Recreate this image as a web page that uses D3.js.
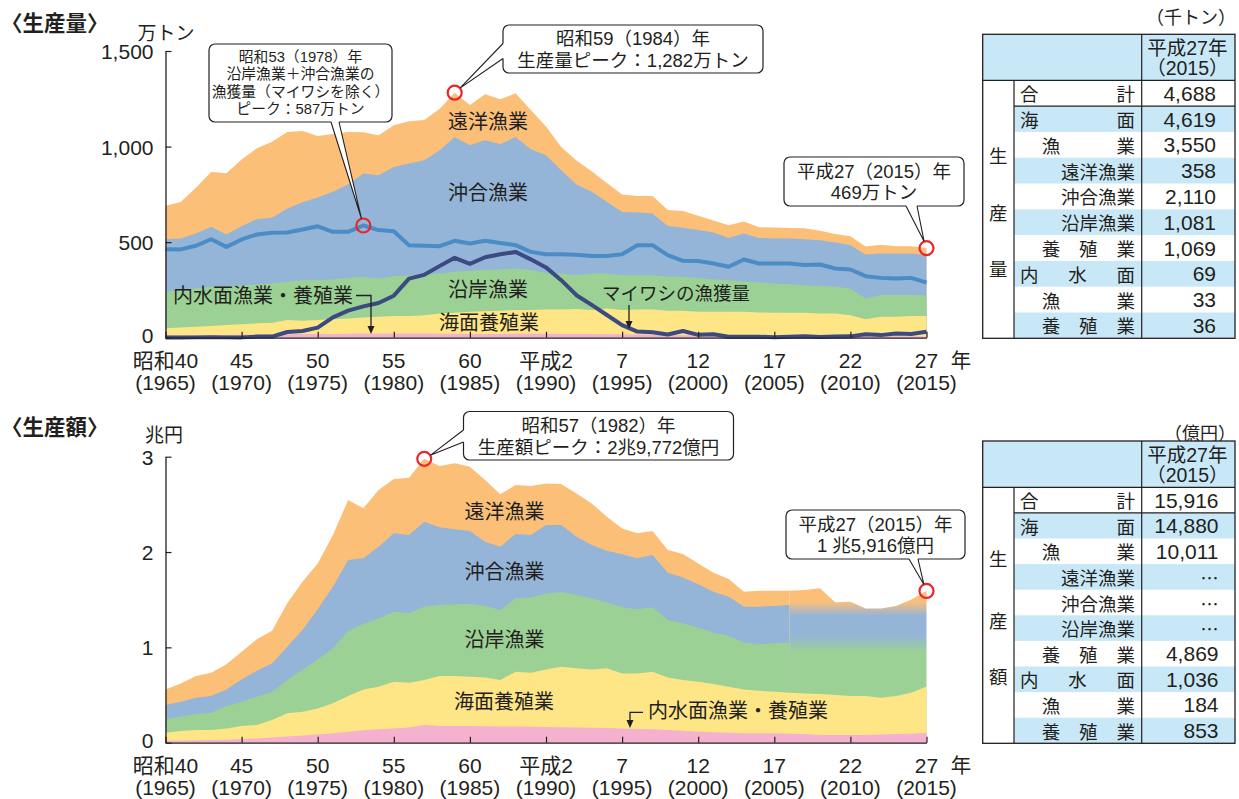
<!DOCTYPE html>
<html lang="ja">
<head>
<meta charset="utf-8">
<title>漁業・養殖業の生産量・生産額の推移</title>
<script src="https://cdn.jsdelivr.net/npm/d3@7/dist/d3.min.js"></script>
<style>
  html, body { margin: 0; padding: 0; background: #fff; }
  svg { display: block; }
  text { font-family: "Liberation Sans", "Noto Sans CJK JP", sans-serif; fill: #231f20; }
  text.cjk { font-family: "Noto Sans CJK JP", sans-serif; }
</style>
</head>
<body>
<svg id="chart" width="1239" height="799"></svg>
<script>
// ---- 年次・目盛 ----
const years = d3.range(1965, 2016);
const lateYears = d3.range(2006, 2016);
const tickYears = [1965, 1970, 1975, 1980, 1985, 1990, 1995, 2000, 2005, 2010, 2015];
const eraLabels = ["昭和40", "45", "50", "55", "60", "平成2", "7", "12", "17", "22", "27"];
const adLabels = ["(1965)", "(1970)", "(1975)", "(1980)", "(1985)", "(1990)",
                  "(1995)", "(2000)", "(2005)", "(2010)", "(2015)"];
const volTicks = [0, 500, 1000, 1500];
const valTicks = [0, 10000, 20000, 30000];

// ---- 生産量（万トン）1965〜2015 ----
const volInland = [11,12,13,13,14,15,16,17,18,19, 20,20,21,22,21,22,22,22,21,21,
  20,20,20,21,21,21,20,19,19,18, 18,17,16,14,13,13,12,11,11,11, 10,9,9,8,8,8,7,7,7,7, 6.9];
const volMarineAqua = [38,42,44,48,52,56,59,61,74,70, 72,76,80,84,89,91,91,96,106,110,
  116,119,121,124,124,127,128,131,126,135, 127,131,132,127,128,123,124,125,125,121,
  121,122,122,119,119,110,89,103,103,106, 106.9];
const volCoastal = [191,195,201,205,204,204,204,206,201,212, 209,209,212,213,200,209,213,213,209,214,
  214,215,216,217,209,192,188,177,191,183, 182,179,179,178,178,177,169,165,160,157,
  153,149,144,143,139,140,109,113,113,110, 108.1];
const volOffshore = [275,270,287,314,270,308,341,343,383,408, 432,458,488,540,540,571,585,597,644,705,
  657,679,655,688,632,614,540,474,427,375, 331,328,323,266,256,250,245,221,249,233,
  235,239,240,240,232,226,230,218,218,218, 211];
const volDistant = [176,191,240,287,321,349,371,398,400,372, 322,303,275,216,209,219,221,211,217,232,
  210,241,235,229,205,151,122,126,108,99, 91,87,91,83,88,75,63,66,63,56,
  58,55,57,49,45,47,42,45,38,38, 35.8];
// 沿岸漁業＋沖合漁業の漁獲量（マイワシを除く）
const volCoastOffshoreExSardine = [463,462,481,515,475,514,540,549,550,566, 583,554,554,587,563,557,484,481,479,507,
  493,507,496,484,449,437,437,434,428,428, 437,484,484,432,402,401,388,371,409,388,
  388,388,380,383,362,357,322,313,310,313, 288];
// マイワシの漁獲量
const volSardine = [0.9,1.3,1.7,2.3,1.7,1.7,5.7,5.8,29.7,35.2, 52.6,106.6,142,163.7,181.7,219.8,308.9,329,374.5,417.9,
  386.6,421,436.2,448.8,409.9,367.8,301,222.4,171.4,118.9, 66.1,31.9,28.4,16.7,35.1,15,17.8,5,5.2,5,
  2.8,5.3,7.9,3.5,5.7,7,17.6,13.5,21.5,19.6, 31.1];

// ---- 生産額（億円） ----
const valInland = [200,220,250,280,320,380,450,550,650,750, 870,1000,1150,1300,1400,1500,1600,1850,1750,1750,
  1750,1720,1700,1700,1680,1650,1620,1600,1570,1530, 1500,1450,1400,1320,1250,1150,1100,1050,1000,1000,
  980,950,900,820,800,800,820,850,900,950, 1036];
const valMarineAqua = [850,1000,1080,1050,1180,1370,1400,1830,2430,2500, 2730,3130,3750,4290,4470,4900,4690,4720,5240,5240,
  5170,5130,4870,5750,5660,6040,6350,6200,6120,6270, 5770,5820,6050,5530,5320,5250,5050,4820,4590,4450,
  4370,4290,4270,4280,4200,4100,4080,3870,4000,4290, 4869];
// 1965〜2006（漁業種類別の内訳あり）
const valCoastal = [1400,1510,1670,1820,2350,2550,2980,2970,3490,4440, 5140,5770,6850,6860,7170,7340,7280,7700,7450,7520,
  7630,7490,7350,7690,7900,7970,7800,7690,7450,6920, 6930,6720,6750,6020,5950,5660,5420,5320,4930,4900, 5070,5250];
const valOffshore = [1500,1570,1720,1750,1740,2340,2720,2970,3500,4130, 5250,6460,7410,6890,7520,8220,8210,8910,8150,7870,
  7650,6740,6640,6750,6540,7170,7060,6120,5590,5420, 5560,5350,5490,4960,4820,4550,4270,4120,3750,3920, 3920,3950];
const valDistant = [1640,1920,2270,2440,2630,2910,3290,3430,4550,5070, 4820,5420,6290,5240,5940,5700,6020,6592,6430,6920,
  6750,6470,5490,5140,5140,4370,4300,4540,4370,3570, 2720,2620,2510,2380,2450,2200,1990,1860,1570,1670, 1600,1500];
// 2006〜2015 海面漁業計（内訳なし）
const valFisheryLate = [10700,10840,11090,9720,9890,9190,9370,9440,9790,10011];

// ---- 平成27年（2015）内訳表 ----
const tableRowLabels = ["合計", "海面", "漁業", "遠洋漁業", "沖合漁業", "沿岸漁業", "養殖業", "内水面", "漁業", "養殖業"];
const tableRowIndent = [0, 0, 1, 2, 2, 2, 1, 0, 1, 1];
const volTable = [4688, 4619, 3550, 358, 2110, 1081, 1069, 69, 33, 36];
const valTable = [15916, 14880, 10011, null, null, null, 4869, 1036, 184, 853];

// ---- 配色 ----
const C = {
  distant: "#fbbf78", offshore: "#94b4d8", coastal: "#9cd195", aqua: "#fee585", inland: "#f4b2ce",
  line: "#4b8cc6", sardine: "#3b4a80", red: "#e8262c", ink: "#231f20", cell: "#c8e8f7"
};
const FONT_TICK = 21, FONT_LABEL = 20;

const svg = d3.select("#chart");
const defs = svg.append("defs");

const x = d3.scaleLinear().domain([1965, 2015]).range([165.5, 926.5]);
const yVol = d3.scaleLinear().domain([0, 1500]).range([337.7, 51]);
const yVal = d3.scaleLinear().domain([0, 30000]).range([742.7, 456.7]);

// ---------- 共通部品 ----------
// 複数行のテキストを1つの text 要素にまとめる
function multiline(g, cx, ys, lines, fs, anchor) {
  const t = g.append("text").attr("text-anchor", anchor || "middle")
    .attr("dominant-baseline", "central").attr("font-size", fs);
  lines.forEach((s, i) => t.append("tspan").attr("x", cx).attr("y", ys[i]).text(s));
  return t;
}

function label(g, cx, cy, txt, fs) {
  return g.append("text").attr("x", cx).attr("y", cy).attr("text-anchor", "middle")
    .attr("dominant-baseline", "central").attr("font-size", fs || FONT_LABEL).text(txt);
}

function drawAxes(g, y, ticks, fmt, line1Y, line2Y) {
  const ax = g.append("g").attr("transform", `translate(${x.range()[0]},0)`)
    .call(d3.axisLeft(y).tickValues(ticks).tickSize(-6).tickSizeOuter(0).tickPadding(12).tickFormat(fmt));
  const bx = g.append("g").attr("transform", `translate(0,${y(0)})`)
    .call(d3.axisBottom(x).tickValues(tickYears).tickSize(-6).tickSizeOuter(0).tickFormat(""));
  [ax, bx].forEach(a => {
    a.select(".domain").attr("stroke", C.ink).attr("stroke-width", 1.3);
    a.selectAll(".tick line").attr("stroke", C.ink).attr("stroke-width", 1.2);
  });
  ax.selectAll(".tick text").attr("font-size", FONT_TICK).attr("fill", C.ink)
    .attr("font-family", '"Liberation Sans", sans-serif')
    .attr("dy", d => d === 0 ? "-0.12em" : null)
    .attr("dominant-baseline", "central");
  tickYears.forEach((yr, i) => {
    multiline(g, x(yr), [line1Y, line2Y], [eraLabels[i], adLabels[i]], FONT_TICK);
  });
  label(g, 961, line1Y, "年", 20.5);
}

function ring(g, cx, cy) {
  g.append("circle").attr("cx", cx).attr("cy", cy).attr("r", 7)
    .attr("fill", "none").attr("stroke", C.red).attr("stroke-width", 2.2);
  return { cx, cy, r: 7 };
}

// 吹き出し：角丸の箱＋くさび形の引き出し線
function callout(g, box, lines, fs, lh, b1, b2, inward, target) {
  const mx = (b1[0] + b2[0]) / 2, my = (b1[1] + b2[1]) / 2;
  const a = Math.atan2(my - target.cy, mx - target.cx);
  const tip = [target.cx + target.r * Math.cos(a), target.cy + target.r * Math.sin(a)];
  g.append("rect").attr("x", box.x).attr("y", box.y).attr("width", box.w).attr("height", box.h)
    .attr("rx", 6).attr("fill", "#fff").attr("stroke", C.ink).attr("stroke-width", 1.2);
  const i1 = [b1[0] + inward[0], b1[1] + inward[1]], i2 = [b2[0] + inward[0], b2[1] + inward[1]];
  g.append("path").attr("d", `M${i1}L${b1}L${tip}L${b2}L${i2}Z`).attr("fill", "#fff");
  g.append("path").attr("d", `M${b1}L${tip}M${b2}L${tip}`)
    .attr("fill", "none").attr("stroke", C.ink).attr("stroke-width", 1.1);
  const cy0 = box.y + box.h / 2 - (lines.length - 1) * lh / 2;
  multiline(g, box.x + box.w / 2, lines.map((_, i) => cy0 + i * lh), lines, fs);
}

function arrowDown(g, pts) {
  const last = pts[pts.length - 1];
  g.append("path").attr("d", d3.line()(pts.slice(0, -1).concat([[last[0], last[1] - 6]])))
    .attr("fill", "none").attr("stroke", C.ink).attr("stroke-width", 1.3);
  g.append("path").attr("d", `M${last[0] - 3.5},${last[1] - 8}L${last[0] + 3.5},${last[1] - 8}L${last[0]},${last[1]}Z`)
    .attr("fill", C.ink);
}

function drawTable(g, o) {
  const x0 = 982.7, x1 = 1014, x2 = 1141.7, x3 = 1235;
  const rows = tableRowLabels.length;
  const bottom = o.headBottom + rows * o.rowH;
  g.append("text").attr("class", "cjk").attr("x", 1236).attr("y", o.unitY).attr("text-anchor", "end")
    .attr("dominant-baseline", "central").attr("font-size", 18).text(o.unit);
  g.append("rect").attr("x", x0).attr("y", o.top).attr("width", x3 - x0).attr("height", o.headBottom - o.top)
    .attr("fill", C.cell);
  g.selectAll("rect.band").data(d3.range(1, rows, 2)).join("rect")
    .attr("x", x1).attr("y", i => o.headBottom + i * o.rowH).attr("width", x3 - x1).attr("height", o.rowH)
    .attr("fill", C.cell);
  const ln = (a, b, c, d) => g.append("line").attr("x1", a).attr("y1", b).attr("x2", c).attr("y2", d)
    .attr("stroke", C.ink).attr("stroke-width", 1.2);
  ln(x0, o.headBottom, x3, o.headBottom);
  ln(x1, o.headBottom + o.rowH, x3, o.headBottom + o.rowH);
  ln(x1, o.headBottom, x1, bottom);
  ln(x2, o.top, x2, bottom);
  g.append("rect").attr("x", x0).attr("y", o.top).attr("width", x3 - x0).attr("height", bottom - o.top)
    .attr("fill", "none").attr("stroke", C.ink).attr("stroke-width", 1.3);
  multiline(g, (x2 + x3) / 2 - 1, [o.top + 14, o.top + 34], ["平成27年", "（2015）"], 19.5);
  multiline(g, (x0 + x1) / 2, o.sideY, o.side, 18.5).attr("class", "cjk");
  const fs = 18.5, cw = 18.5, right = 1135;
  tableRowLabels.forEach((t, r) => {
    const cy = o.headBottom + (r + 0.5) * o.rowH;
    const ind = tableRowIndent[r];
    if (ind === 2) {
      g.append("text").attr("class", "cjk").attr("x", right).attr("y", cy).attr("text-anchor", "end")
        .attr("dominant-baseline", "central").attr("font-size", fs).text(t);
      return;
    }
    // 文字を左端から右端まで均等に割り付ける
    const left = ind === 0 ? 1020 : 1041.7;
    const chars = Array.from(t);
    const c0 = left + cw / 2, c1 = right - cw / 2;
    const tx = g.append("text").attr("class", "cjk").attr("y", cy).attr("text-anchor", "middle")
      .attr("dominant-baseline", "central").attr("font-size", fs);
    chars.forEach((ch, k) => tx.append("tspan").attr("x", c0 + (c1 - c0) * k / (chars.length - 1)).text(ch));
  });
  o.values.forEach((v, r) => {
    const t = g.append("text").attr("x", o.valueX).attr("y", o.headBottom + (r + 0.5) * o.rowH)
      .attr("text-anchor", "end").attr("dominant-baseline", "central");
    if (v === null) t.attr("class", "cjk").attr("font-size", 18).text("…");
    else t.attr("font-size", 21).text(d3.format(",")(v));
  });
}

// ================= 生産量 =================
const gv = svg.append("g");
gv.append("text").attr("class", "cjk").attr("x", 1).attr("y", 21).attr("dominant-baseline", "central")
  .attr("font-size", 21.5).attr("font-weight", 700).text("〈生産量〉");
label(gv, 166, 31, "万トン", 19).attr("class", "cjk");

const volRows = years.map((yr, i) => ({
  year: yr, inland: volInland[i], aqua: volMarineAqua[i], coastal: volCoastal[i],
  offshore: volOffshore[i], distant: volDistant[i]
}));
const volStack = d3.stack().keys(["inland", "aqua", "coastal", "offshore", "distant"])(volRows);
// 上の層から順に、基線から累積値まで塗る（層の継ぎ目を出さない）
volStack.slice().reverse().forEach(layer => {
  gv.append("path").datum(layer).attr("fill", C[layer.key])
    .attr("d", d3.area().x(d => x(d.data.year)).y0(yVol(0)).y1(d => yVol(d[1])));
});
const volLine = d3.line().x((d, i) => x(years[i])).y(d => yVol(d));
gv.append("path").datum(volCoastOffshoreExSardine).attr("d", volLine)
  .attr("fill", "none").attr("stroke", C.line).attr("stroke-width", 4).attr("stroke-linejoin", "round");
gv.append("path").datum(volSardine).attr("d", volLine)
  .attr("fill", "none").attr("stroke", C.sardine).attr("stroke-width", 4).attr("stroke-linejoin", "round");
drawAxes(gv, yVol, volTicks, d3.format(","), 360, 382);

label(gv, 488, 122, "遠洋漁業");
label(gv, 488, 193, "沖合漁業");
label(gv, 488, 290, "沿岸漁業");
label(gv, 489, 322.5, "海面養殖業");
label(gv, 676, 293, "マイワシの漁獲量", 18.5);
arrowDown(gv, [[629, 305], [629, 329]]);
label(gv, 263, 296, "内水面漁業・養殖業");
arrowDown(gv, [[356, 295.5], [371, 295.5], [371, 334]]);

const iLast = years.length - 1;
const volTotal = i => volInland[i] + volMarineAqua[i] + volCoastal[i] + volOffshore[i] + volDistant[i];
const r53 = ring(gv, x(1978), yVol(volCoastOffshoreExSardine[years.indexOf(1978)]));
const r59 = ring(gv, x(1984), yVol(volTotal(years.indexOf(1984))));
const r27v = ring(gv, x(2015), yVol(volTotal(iLast)));
callout(gv, { x: 209, y: 44, w: 183, h: 78 },
  ["昭和53（1978）年", "沿岸漁業＋沖合漁業の", "漁獲量（マイワシを除く）", "ピーク：587万トン"],
  14.8, 17.6, [331, 122], [339, 122], [0, -1.5], r53);
callout(gv, { x: 503, y: 25, w: 260, h: 48 },
  ["昭和59（1984）年", "生産量ピーク：1,282万トン"], 18.5, 21.5, [503, 43.5], [503, 58.5], [1.5, 0], r59);
callout(gv, { x: 784, y: 157, w: 180, h: 49 },
  ["平成27（2015）年", "469万トン"], 18.5, 21.5, [906, 206], [917, 206], [0, -1.5], r27v);

drawTable(gv, {
  top: 34.3, headBottom: 80.3, rowH: 25.8, unit: "（千トン）", unitY: 16,
  side: ["生", "産", "量"], sideY: [155, 211.7, 268.3], values: volTable, valueX: 1216
});

// ================= 生産額 =================
const ge = svg.append("g");
ge.append("text").attr("class", "cjk").attr("x", 1).attr("y", 425).attr("dominant-baseline", "central")
  .attr("font-size", 21.5).attr("font-weight", 700).text("〈生産額〉");
label(ge, 164, 433, "兆円", 19).attr("class", "cjk");

const nEarly = valCoastal.length;
const earlyRows = years.slice(0, nEarly).map((yr, i) => ({
  year: yr, inland: valInland[i], aqua: valMarineAqua[i], coastal: valCoastal[i],
  offshore: valOffshore[i], distant: valDistant[i]
}));
const lateRows = lateYears.map((yr, i) => {
  const k = years.indexOf(yr);
  return { year: yr, inland: valInland[k], aqua: valMarineAqua[k], fishery: valFisheryLate[i] };
});
const allRows = years.map((yr, i) => ({ year: yr, inland: valInland[i], aqua: valMarineAqua[i] }));

const earlyStack = d3.stack().keys(["inland", "aqua", "coastal", "offshore", "distant"])(earlyRows);
const lateStack = d3.stack().keys(["inland", "aqua", "fishery"])(lateRows);
const baseStack = d3.stack().keys(["inland", "aqua"])(allRows);
const valArea = d3.area().x(d => x(d.data.year)).y0(yVal(0)).y1(d => yVal(d[1]));

// 平成19年以降は漁業種類別の内訳がないため、色をぼかして表示
const g0 = yVal(16500), g1 = yVal(8500);
const grad = defs.append("linearGradient").attr("id", "fisheryMix")
  .attr("gradientUnits", "userSpaceOnUse").attr("x1", 0).attr("x2", 0).attr("y1", g0).attr("y2", g1);
[[14800, C.distant], [13300, C.offshore], [11400, C.offshore], [9400, C.coastal]].forEach(([v, col]) => {
  grad.append("stop").attr("offset", (yVal(v) - g0) / (g1 - g0)).attr("stop-color", col);
});

ge.append("path").datum(lateStack[2]).attr("fill", "url(#fisheryMix)").attr("d", valArea);
earlyStack.slice(2).reverse().forEach(layer => {
  ge.append("path").datum(layer).attr("fill", C[layer.key]).attr("d", valArea);
});
baseStack.slice().reverse().forEach(layer => {
  ge.append("path").datum(layer).attr("fill", C[layer.key]).attr("d", valArea);
});
drawAxes(ge, yVal, valTicks, d => d / 10000, 765, 787);

label(ge, 504.5, 511.7, "遠洋漁業");
label(ge, 504.5, 571.7, "沖合漁業");
label(ge, 504.5, 640, "沿岸漁業");
label(ge, 504, 701.7, "海面養殖業");
label(ge, 738, 710.7, "内水面漁業・養殖業");
arrowDown(ge, [[643, 712.3], [630, 712.3], [630, 728]]);

const valTotal = i => i < nEarly
  ? valInland[i] + valMarineAqua[i] + valCoastal[i] + valOffshore[i] + valDistant[i]
  : valInland[i] + valMarineAqua[i] + valFisheryLate[i - (years.length - lateYears.length)];
const r57 = ring(ge, x(1982), yVal(valTotal(years.indexOf(1982))));
const r27e = ring(ge, x(2015), yVal(valTotal(iLast)));
callout(ge, { x: 463.5, y: 411.5, w: 270, h: 48.5 },
  ["昭和57（1982）年", "生産額ピーク：2兆9,772億円"], 18.5, 21.5, [463.5, 430], [463.5, 442], [1.5, 0], r57);
callout(ge, { x: 786, y: 510, w: 179, h: 49 },
  ["平成27（2015）年", "1 兆5,916億円"], 18.5, 21.5, [909, 559], [918, 559], [0, -1.5], r27e);

drawTable(ge, {
  top: 441, headBottom: 487.3, rowH: 25.6, unit: "（億円）", unitY: 431.7,
  side: ["生", "産", "額"], sideY: [558.3, 620, 676], values: valTable, valueX: 1218.5
});
</script>
</body>
</html>
